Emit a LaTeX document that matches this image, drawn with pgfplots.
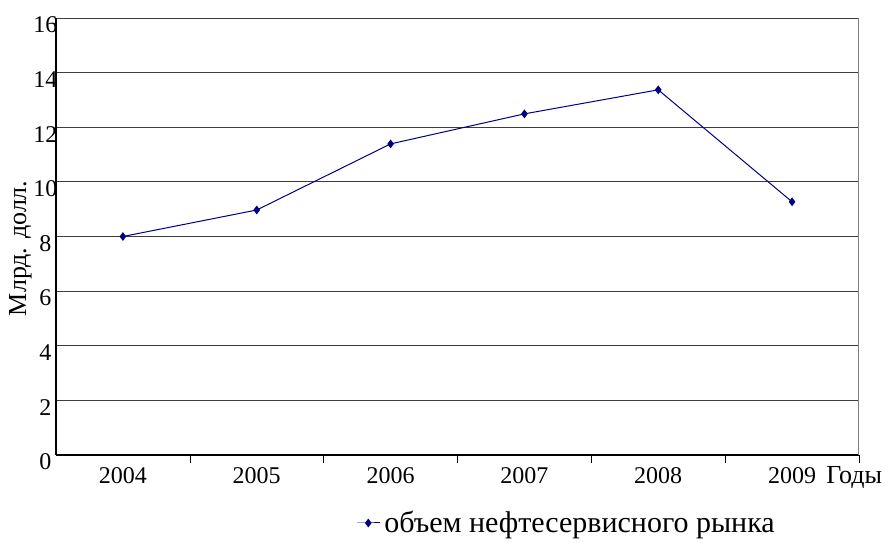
\documentclass[border=0pt]{standalone}
\usepackage{pgfplots}
\pgfplotsset{compat=1.18}
\usepackage{fontspec}
\setmainfont{Liberation Serif}
\definecolor{navyline}{RGB}{0,0,128}
\definecolor{gridgray}{RGB}{60,60,60}
\begin{document}
\begin{tikzpicture}
\useasboundingbox (0,0) rectangle (442.5pt,271pt);
\begin{axis}[
    at={(28pt,43.5pt)}, anchor=south west,
    scale only axis,
    width=401.5pt, height=218.5pt,
    xmin=-0.5, xmax=5.5,
    ymin=0, ymax=16,
    xtick={0,1,2,3,4,5},
    xticklabels={2004,2005,2006,2007,2008,2009},
    major x tick style={draw=none},
    minor xtick={0.5,1.5,2.5,3.5,4.5,5.5},
    minor x tick style={black},
    minor tick length=4pt,
    tick align=outside,
    ytick={0,2,...,16},
    major y tick style={draw=none},
    ymajorgrids=true,
    grid style={gridgray, line width=0.5pt},
    axis x line*=bottom,
    axis y line*=left,
    axis line style={black, line width=0.6pt, -},
    font=\fontsize{12pt}{14pt}\selectfont,
    /pgf/number format/assume math mode=true,
    yticklabel style={anchor=center, xshift=-1pt, yshift=-3.5pt},
    xticklabel style={yshift=1.5pt},
    ylabel={Млрд. долл.},
    ylabel style={at={(ticklabel cs:0.473)}, yshift=-6pt, font=\fontsize{13pt}{15pt}\selectfont},
    legend style={at={(0.637,-0.1556)}, anchor=center, draw=none,
        font=\fontsize{15pt}{17pt}\selectfont},
    legend image code/.code={
        \draw[mark repeat=2,mark phase=2] plot coordinates {(0pt,0pt)(5.75pt,0pt)(11.5pt,0pt)};},
    clip=false,
]
\addplot[color=navyline, line width=0.5pt, mark=diamond*, mark size=1.8pt,
    mark options={fill=navyline}]
    coordinates {
    (0,8.0)(1,8.97)(2,11.39)(3,12.49)(4,13.37)(5,9.27)
    };
\addlegendentry{объем нефтесервисного рынка}
\draw[gray, line width=0.5pt] (rel axis cs:1,0) -- (rel axis cs:1,1);
\node[anchor=north, font=\fontsize{13pt}{15pt}\selectfont] at (rel axis cs:0.994,0) [yshift=-2pt] {Годы};
\end{axis}
\end{tikzpicture}
\end{document}
